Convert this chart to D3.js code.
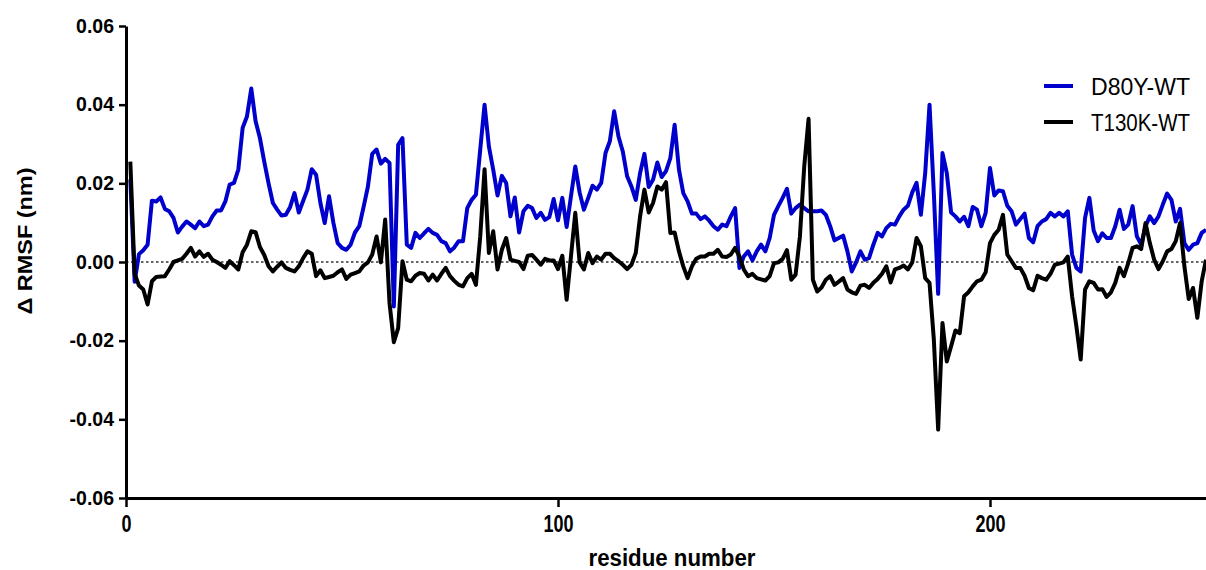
<!DOCTYPE html>
<html>
<head>
<meta charset="utf-8">
<script src="https://cdn.jsdelivr.net/npm/d3@7"></script>
<style>
  body { margin: 0; background: #fff; }
  svg { display: block; }
</style>
</head>
<body>
<div id="chart"></div>
<script>
var width = 1206;
var height = 570;

// residue numbers 1..250
var residues = d3.range(1, 251);

var seriesNames = ["D80Y-WT", "T130K-WT"];
var seriesColors = ["#0000cc", "#000000"];

// delta RMSF (nm), D80Y minus WT
var d80y = [
  0.021, -0.005, 0.002, 0.003, 0.0044, 0.0156, 0.0154, 0.0164, 0.0135, 0.0129,
  0.0112, 0.0075, 0.009, 0.0103, 0.0095, 0.0086, 0.0103, 0.0091, 0.0095, 0.0116,
  0.0131, 0.0131, 0.0154, 0.0197, 0.0201, 0.0235, 0.0341, 0.037, 0.0441, 0.0358,
  0.0315, 0.0255, 0.020, 0.015, 0.0133, 0.0118, 0.012, 0.014, 0.0175, 0.0126,
  0.0155, 0.0184, 0.0236, 0.0222, 0.015, 0.0099, 0.0167, 0.010, 0.0048, 0.0036,
  0.0031, 0.0044, 0.0075, 0.0091, 0.014, 0.0192, 0.0275, 0.0286, 0.025, 0.0262,
  0.0252, -0.0113, 0.0298, 0.0315, 0.0044, 0.0036, 0.0074, 0.0061, 0.0073, 0.0084,
  0.0074, 0.0069, 0.0053, 0.0048, 0.0027, 0.0037, 0.0053, 0.0053, 0.0137, 0.0158,
  0.0171, 0.0286, 0.040, 0.0294, 0.0235, 0.0169, 0.0219, 0.0201, 0.0116, 0.0164,
  0.0075, 0.0129, 0.0143, 0.0137, 0.0112, 0.0125, 0.0107, 0.0114, 0.016, 0.0106,
  0.0163, 0.0089, 0.0167, 0.0243, 0.0177, 0.0133, 0.0163, 0.0194, 0.0184, 0.0201,
  0.0277, 0.0307, 0.0383, 0.0319, 0.0281, 0.0218, 0.0192, 0.0158, 0.0226, 0.0275,
  0.0191, 0.0209, 0.0253, 0.0216, 0.0231, 0.0264, 0.0349, 0.0235, 0.0175, 0.0154,
  0.0123, 0.0123, 0.0109, 0.0116, 0.0105, 0.0091, 0.0082, 0.0095, 0.0091, 0.0116,
  0.0137, -0.0015, 0.0014, 0.0027, 0.0004, 0.0027, 0.0044, 0.0027, 0.0061, 0.012,
  0.0142, 0.0163, 0.0186, 0.0123, 0.0137, 0.0146, 0.0137, 0.0129, 0.0129, 0.0129,
  0.0131, 0.012, 0.0091, 0.0055, 0.0061, 0.0067, 0.0027, -0.0024, -0.0001, 0.0027,
  0.0006, 0.001, 0.0044, 0.0074, 0.0065, 0.0086, 0.0097, 0.0095, 0.0116, 0.0133,
  0.0143, 0.0177, 0.0201, 0.012, 0.0226, 0.040, 0.0175, -0.0081, 0.0277, 0.0226,
  0.0126, 0.0116, 0.0103, 0.0115, 0.0091, 0.014, 0.0133, 0.0091, 0.0125, 0.0239,
  0.0169, 0.0182, 0.018, 0.0143, 0.0129, 0.0095, 0.0109, 0.0123, 0.0061, 0.005,
  0.0091, 0.0103, 0.0109, 0.0125, 0.0116, 0.0125, 0.0116, 0.0129, 0.0019, -0.0015,
  -0.0024, 0.0112, 0.0163, 0.008, 0.0053, 0.0073, 0.0061, 0.0061, 0.0091, 0.0133,
  0.0084, 0.0095, 0.0142, 0.0065, 0.0044, 0.0091, 0.0116, 0.0099, 0.0116, 0.0146,
  0.0174, 0.0158, 0.0103, 0.0135, 0.0048, 0.0031, 0.0044, 0.0048, 0.0074, 0.0082
];

// delta RMSF (nm), T130K minus WT
var t130k = [
  0.0255, -0.003, -0.006, -0.007, -0.0108, -0.0049, -0.0038, -0.0037, -0.0036, -0.0019,
  0, 0.0004, 0.0008, 0.0021, 0.0036, 0.0014, 0.0027, 0.0013, 0.0021, 0.0006,
  0, -0.0007, -0.0015, 0.0002, -0.0008, -0.0019, 0.0025, 0.0044, 0.0078, 0.0076,
  0.0038, 0.0018, -0.0011, -0.0024, -0.0012, -0.0001, -0.0015, -0.002, -0.0024, -0.0011,
  0.001, 0.0027, 0.0021, -0.0036, -0.0021, -0.0041, -0.0038, -0.0035, -0.0026, -0.0019,
  -0.0043, -0.0032, -0.0028, -0.0024, -0.0009, -0.0001, 0.0019, 0.0065, -0.0001, 0.0108,
  -0.0104, -0.0204, -0.0168, 0.0002, -0.0045, -0.0049, -0.0035, -0.0028, -0.003, -0.0047,
  -0.0032, -0.0047, -0.003, -0.0015, -0.0036, -0.0048, -0.0058, -0.0062, -0.0041, -0.003,
  -0.0058, 0.0065, 0.0236, 0.0023, 0.0078, -0.0019, 0.0031, 0.0061, 0.0006, 0.0003,
  0, -0.0018, 0.0016, 0.0018, 0.0006, -0.0007, 0.0008, 0.0004, 0.0004, -0.0018,
  0.0016, -0.0096, 0.0014, 0.0125, -0.0001, -0.0019, 0.0023, -0.0003, 0.0014, 0.0006,
  0.0021, 0.0021, 0.001, 0.0002, -0.0007, -0.0018, -0.0007, 0.0023, 0.0116, 0.0184,
  0.0126, 0.015, 0.0192, 0.0184, 0.0203, 0.0074, 0.0075, 0.0027, -0.0011, -0.0041,
  -0.0011, 0.0008, 0.0014, 0.0014, 0.0021, 0.0021, 0.0031, 0.0014, 0.0013, 0.0019,
  0.0036, 0.0014, -0.0019, -0.0036, -0.003, -0.0041, -0.0044, -0.0047, -0.0036, -0.0003,
  -0.0001, 0.0008, 0.003, -0.0045, -0.0032, 0.0065, 0.0243, 0.0364, -0.0045, -0.0075,
  -0.0065, -0.0045, -0.0036, -0.0058, -0.005, -0.0041, -0.007, -0.0077, -0.0081, -0.006,
  -0.0058, -0.0066, -0.0053, -0.0043, -0.003, -0.0011, -0.0052, -0.0019, -0.0015, -0.0009,
  -0.0019, -0.0001, 0.0061, 0.004, -0.0041, -0.0053, -0.0197, -0.0426, -0.0155, -0.0253,
  -0.0214, -0.0174, -0.0181, -0.0087, -0.0077, -0.0062, -0.0049, -0.0045, -0.0026, 0.0048,
  0.0069, 0.0082, 0.012, 0.0019, 0.0002, -0.0015, -0.0015, -0.0035, -0.0066, -0.0072,
  -0.0035, -0.0041, -0.0045, -0.003, -0.0007, -0.0004, -0.0001, 0.0014, -0.0087, -0.0164,
  -0.0248, -0.007, -0.0049, -0.0053, -0.007, -0.0069, -0.0089, -0.0077, -0.0053, -0.0015,
  -0.0036, -0.0003, 0.0036, 0.004, 0.0033, 0.0099, 0.0048, 0.0006, -0.0018, 0.0002,
  0.0027, 0.0033, 0.0053, 0.0099, -0.0011, -0.0094, -0.0066, -0.0142, -0.0049, 0.0006
];

var xTicks = [0, 100, 200];
var yTicks = [-0.06, -0.04, -0.02, 0.00, 0.02, 0.04, 0.06];

var x = d3.scaleLinear().domain([0, 250]).range([126, 1206]);
var y = d3.scaleLinear().domain([-0.06, 0.06]).range([498, 26]);

var svg = d3.select("#chart")
  .append("svg")
  .attr("width", width)
  .attr("height", height);

// dotted zero line
svg.append("line")
  .attr("x1", x(0)).attr("x2", x(250))
  .attr("y1", y(0)).attr("y2", y(0))
  .attr("stroke", "#333")
  .attr("stroke-width", 1.5)
  .attr("stroke-dasharray", "2.5,2.5");

var line = d3.line()
  .x(function(d) { return x(d[0]); })
  .y(function(d) { return y(d[1]); });

var series = [d80y, t130k];
series.forEach(function(vals, i) {
  svg.append("path")
    .datum(residues.map(function(r, j) { return [r, vals[j]]; }))
    .attr("fill", "none")
    .attr("stroke", seriesColors[i])
    .attr("stroke-width", 4)
    .attr("stroke-linejoin", "round")
    .attr("d", line);
});

// axes
var fmt = function(d) { return d3.format(".2f")(d).replace("\u2212", "-"); };

var yAxis = svg.append("g")
  .attr("transform", "translate(" + x(0) + ",0)")
  .call(d3.axisLeft(y).tickValues(yTicks).tickFormat(fmt).tickSize(7).tickSizeOuter(0).tickPadding(5));

var xAxis = svg.append("g")
  .attr("transform", "translate(0," + y(-0.06) + ")")
  .call(d3.axisBottom(x).tickValues(xTicks).tickSize(9).tickSizeOuter(0).tickPadding(9));

[xAxis, yAxis].forEach(function(g) {
  g.select(".domain").attr("stroke", "#000").attr("stroke-width", 3);
  g.selectAll(".tick line").attr("stroke", "#000").attr("stroke-width", 2.5);
});

yAxis.selectAll("text")
  .attr("fill", "#000")
  .style("font-family", "'Liberation Sans', Arial, sans-serif")
  .style("font-weight", "bold")
  .style("font-size", "19.5px");

xAxis.selectAll("text")
  .attr("fill", "#000")
  .style("font-family", "'Liberation Sans', Arial, sans-serif")
  .style("font-weight", "bold")
  .style("font-size", "23px")
  .attr("textLength", function(d) { return String(d).length * 10; })
  .attr("lengthAdjust", "spacingAndGlyphs");

// axis titles
svg.append("text")
  .attr("x", 672)
  .attr("y", 566)
  .attr("text-anchor", "middle")
  .attr("textLength", 167)
  .attr("lengthAdjust", "spacingAndGlyphs")
  .style("font-family", "'Liberation Sans', Arial, sans-serif")
  .style("font-weight", "bold")
  .style("font-size", "23px")
  .text("residue number");

svg.append("text")
  .attr("transform", "translate(32,241) rotate(-90)")
  .attr("text-anchor", "middle")
  .attr("textLength", 147)
  .attr("lengthAdjust", "spacingAndGlyphs")
  .style("font-family", "'Liberation Sans', Arial, sans-serif")
  .style("font-weight", "bold")
  .style("font-size", "20px")
  .text("\u0394 RMSF (nm)");

// legend
var legend = svg.append("g");
seriesNames.forEach(function(name, i) {
  var ly = 86 + i * 36;
  legend.append("line")
    .attr("x1", 1044).attr("x2", 1073)
    .attr("y1", ly).attr("y2", ly)
    .attr("stroke", seriesColors[i])
    .attr("stroke-width", 4);
  legend.append("text")
    .attr("x", 1091)
    .attr("y", ly + 9)
    .attr("textLength", 99)
    .attr("lengthAdjust", "spacingAndGlyphs")
    .style("font-family", "'Liberation Sans', Arial, sans-serif")
    .style("font-size", "23px")
    .text(name);
});
</script>
</body>
</html>
